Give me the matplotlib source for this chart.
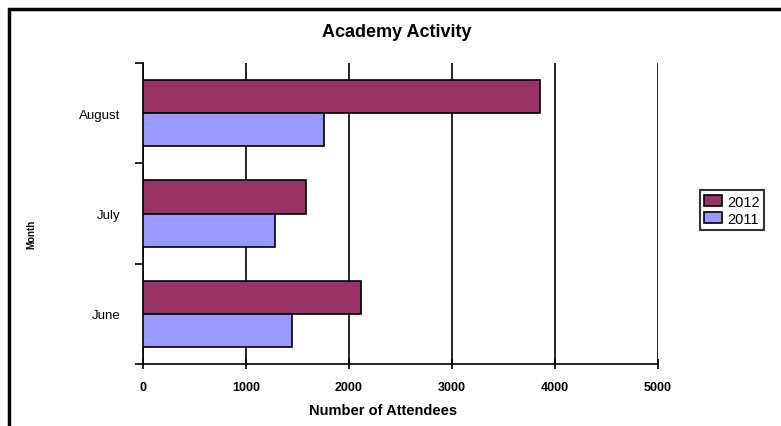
import numpy as np
import matplotlib
matplotlib.use("Agg")
from matplotlib import pyplot as plt
from matplotlib.patches import Rectangle

# data
months = ["June", "July", "August"]
attendees2012 = [2120, 1580, 3850]
attendees2011 = [1450, 1280, 1760]
xTicks = [0, 1000, 2000, 3000, 4000, 5000]

color2012 = "#993366"
color2011 = "#9999FF"

plt.rcParams["font.family"] = ["Liberation Sans", "DejaVu Sans"]

figure = plt.figure(figsize=(7.81, 4.27), dpi=100)
axes = figure.add_axes([0.1831, 0.1452, 0.6594, 0.7049])

# outer chart frame (right and bottom run off the picture)
figure.patches.append(
    Rectangle((0.0115, -0.05), 1.2, 1.0266, transform=figure.transFigure,
              fill=False, edgecolor="black", linewidth=2.5)
)

pos = np.arange(len(months))
barH = 0.33
axes.barh(pos + barH / 2, attendees2012, height=barH, color=color2012,
          edgecolor="black", linewidth=1.2, label="2012", zorder=3)
axes.barh(pos - barH / 2, attendees2011, height=barH, color=color2011,
          edgecolor="black", linewidth=1.2, label="2011", zorder=3)

axes.set_xlim(0, 5000)
axes.set_ylim(-0.5, 2.5)
axes.set_xticks(xTicks)
axes.set_xticklabels([str(t) for t in xTicks], fontsize=9, fontweight="bold")
axes.grid(axis="x", color="black", linewidth=1.2, zorder=0)
axes.tick_params(axis="x", direction="inout", length=7, width=1.2, pad=9)

axes.set_yticks(pos)
axes.set_yticklabels(months, fontsize=9.5)
axes.tick_params(axis="y", which="major", length=0, pad=16)
axes.set_yticks([-0.5, 0.5, 1.5, 2.5], minor=True)
axes.tick_params(axis="y", which="minor", length=6, width=1.2, direction="out")

for side in ["top", "right"]:
    axes.spines[side].set_visible(False)
for side in ["left", "bottom"]:
    axes.spines[side].set_linewidth(1.2)

figure.text(0.508, 0.923, "Academy Activity", ha="center", va="center",
            fontsize=13, fontweight="bold")
figure.text(0.490, 0.037, "Number of Attendees", ha="center", va="center",
            fontsize=10.5, fontweight="bold")
figure.text(0.040, 0.45, "Month", ha="center", va="center", rotation=90,
            fontsize=7, fontweight="bold")

handles, labels = axes.get_legend_handles_labels()
legend = figure.legend(handles, labels, loc="upper left",
                       bbox_to_anchor=(0.896, 0.552), fontsize=10.5,
                       frameon=True, fancybox=False, edgecolor="black",
                       handlelength=1.2, handleheight=0.8, handletextpad=0.4,
                       borderpad=0.3, labelspacing=0.2, borderaxespad=0)
legend.get_frame().set_linewidth(1.5)

figure.savefig("out.png", dpi=100)
